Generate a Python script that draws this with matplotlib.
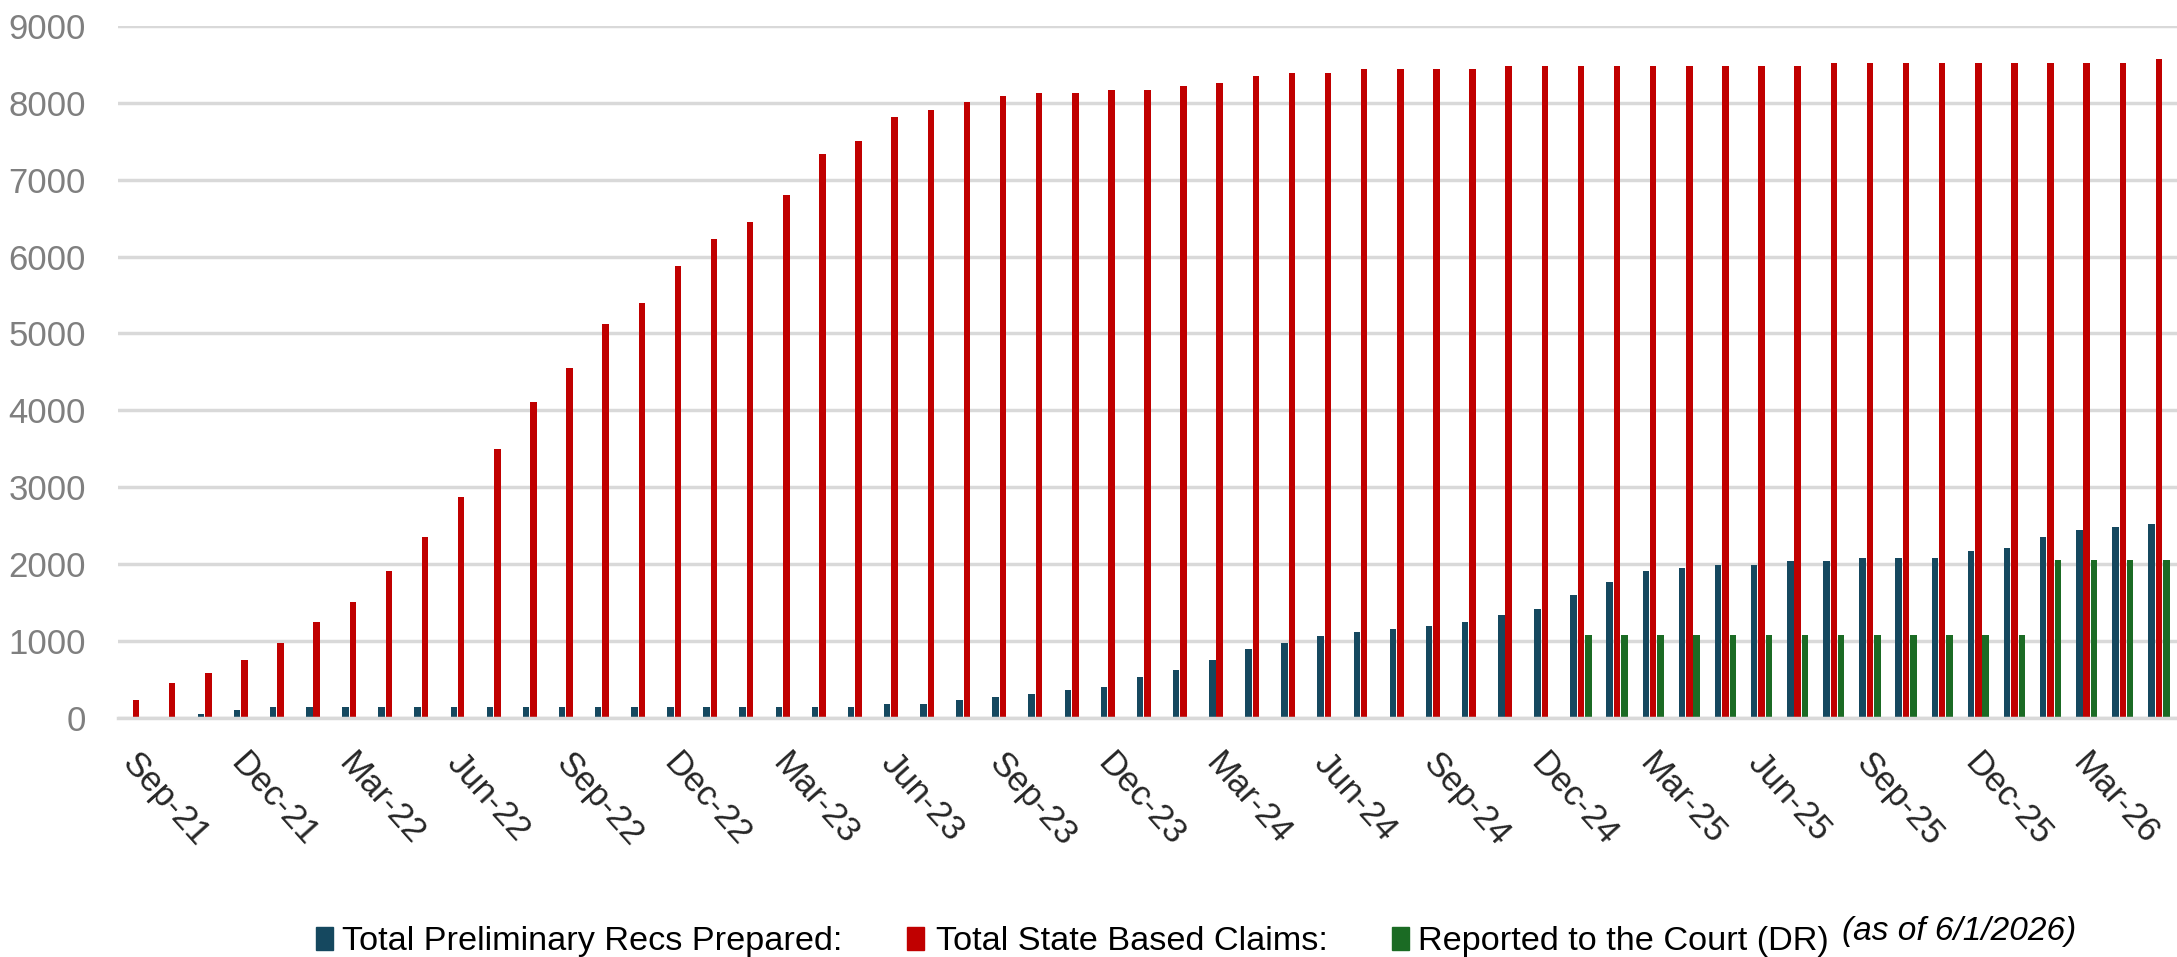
import matplotlib
matplotlib.use("Agg")
from matplotlib import pyplot as plt
from matplotlib.patches import Rectangle
import matplotlib.transforms as mtransforms
import numpy as np
import pandas as pd

# monthly categories, Sep-21 .. May-26
months = pd.date_range("2021-09-01", periods=57, freq="MS").strftime("%b-%y").tolist()

prelim_recs = [0, 0, 45, 95, 135, 135, 135, 135, 135, 135, 135, 135,
               135, 135, 135, 135, 135, 135, 135, 135, 135, 183, 183, 234, 271, 303, 360,
               404, 530, 625, 751, 896, 972, 1067, 1117, 1155, 1199, 1250, 1338, 1420, 1597, 1768,
               1913, 1951, 1989, 1989, 2045, 2045, 2083, 2083, 2083, 2172, 2210, 2355, 2437, 2487, 2525]

state_claims = [230, 450, 580, 745, 965, 1245, 1505, 1905, 2350, 2870, 3495, 4110,
                4550, 5125, 5400, 5880, 6230, 6450, 6805, 7335, 7505, 7820, 7910, 8005, 8095, 8130, 8130,
                8170, 8170, 8225, 8265, 8350, 8390, 8390, 8445, 8445, 8445, 8445, 8485, 8485, 8485, 8485,
                8485, 8485, 8485, 8485, 8485, 8525, 8525, 8525, 8525, 8525, 8525, 8525, 8525, 8525, 8575]

court_dr = [0] * 40 + [1070] * 13 + [2050] * 4

series_names = ["Total Preliminary Recs Prepared:", "Total State Based Claims:", "Reported to the Court (DR)"]
series_colors = ["#15485F", "#C00000", "#1B6B24"]
note = "(as of 6/1/2026)"

plt.rcParams['font.family'] = ['Liberation Sans', 'DejaVu Sans']

fig = plt.figure(figsize=(21.77, 9.57), dpi=100)
ax = fig.add_axes([0.0542, 0.2501, 0.9458, 0.7227])

x = np.arange(len(months))
w = 0.18
off = 0.205
ax.bar(x - off, prelim_recs, w, color=series_colors[0], label=series_names[0])
ax.bar(x, state_claims, w, color=series_colors[1], label=series_names[1])
ax.bar(x + off, court_dr, w, color=series_colors[2], label=series_names[2])

ax.set_xlim(-0.5, len(months) - 0.5)
ax.set_ylim(0, 9000)
ax.set_yticks(range(0, 9001, 1000))
ax.yaxis.grid(True, color='#D9D9D9', lw=2.5)
ax.set_axisbelow(True)
for s in ['top', 'right', 'left']:
    ax.spines[s].set_visible(False)
ax.spines['bottom'].set_color('#D9D9D9')
ax.spines['bottom'].set_linewidth(2.5)

ax.tick_params(axis='y', length=0, pad=23, labelsize=25, labelcolor='#7F7F7F')
ax.tick_params(axis='x', length=0, pad=21, labelsize=25, labelcolor='#262626')
ax.set_xticks(x[::3])
ax.set_xticklabels(months[::3], rotation=-48, ha='left', va='top', rotation_mode='anchor')
shift = mtransforms.ScaledTranslation(4 / 100, 0, fig.dpi_scale_trans)
for lab in ax.get_xticklabels():
    lab.set_transform(lab.get_transform() + shift)

# legend drawn by hand along the bottom (Excel style)
W, H = 2177, 957
marker_x = [316, 907, 1392]
text_x = [342, 936, 1418]
base_y = 950
for name, col, mx, tx in zip(series_names, series_colors, marker_x, text_x):
    fig.add_artist(Rectangle((mx / W, 1 - base_y / H), 17 / W, 23 / H,
                             transform=fig.transFigure, color=col))
    last = fig.text(tx / W, 1 - base_y / H, name, fontsize=24.7, color='black', va='baseline')

fig.canvas.draw()
bb = last.get_window_extent()
fig.text((bb.x1 + 13) / W, 1 - 940 / H, note, fontsize=24, style='italic', color='black', va='baseline')

plt.savefig("out.png", dpi=100)
